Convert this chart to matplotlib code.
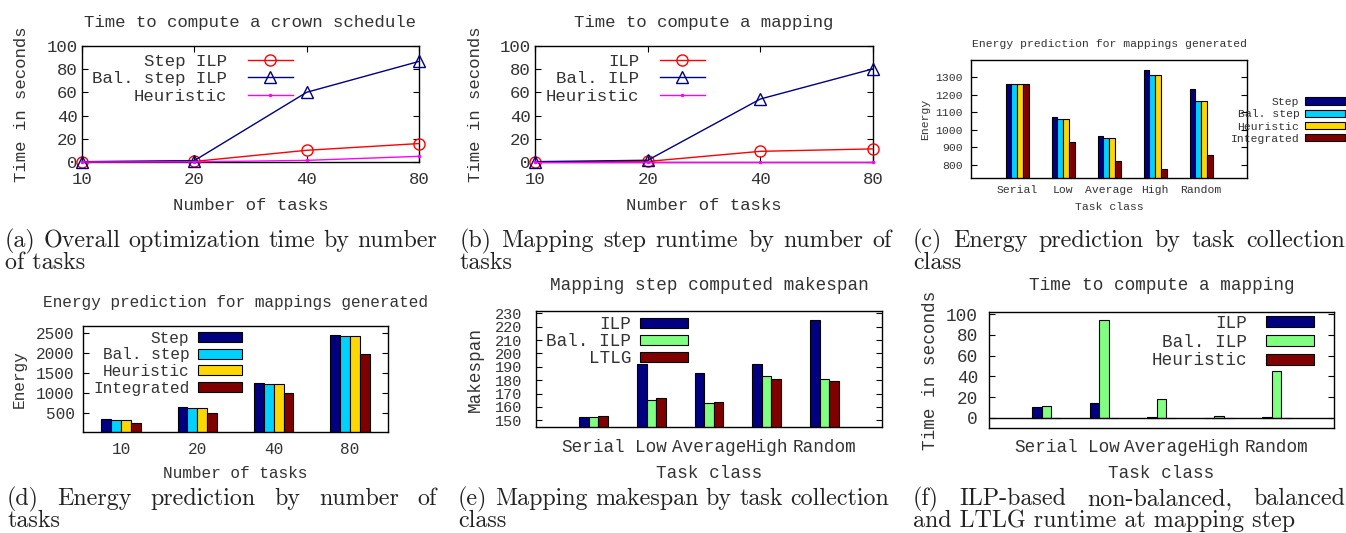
import numpy as np
import matplotlib.pyplot as plt

W, H = 1346, 533

tasks = ['10', '20', '40', '80']
classes = ['Serial', 'Low', 'Average', 'High', 'Random']

# (a) time to compute a crown schedule, seconds
a_step_ilp = [0.2, 0.5, 10.1, 15.9]
a_bal_step_ilp = [0.3, 1.2, 60.1, 86.7]
a_heuristic = [0.0, 0.1, 1.4, 4.9]

# (b) time to compute a mapping, seconds
b_ilp = [0.1, 0.5, 9.2, 11.3]
b_bal_ilp = [0.3, 1.5, 54.3, 80.3]
b_heuristic = [0.1, 0.1, 0.1, 0.1]

# (c) energy by task class
c_step = [1262, 1071, 963, 1338, 1234]
c_bal_step = [1262, 1063, 953, 1309, 1166]
c_heuristic = [1262, 1063, 953, 1309, 1166]
c_integrated = [1262, 933, 821, 779, 856]

# (d) energy by number of tasks
d_step = [342, 650, 1258, 2458]
d_bal_step = [317, 625, 1233, 2425]
d_heuristic = [317, 625, 1233, 2425]
d_integrated = [250, 500, 992, 1975]

# (e) mapping makespan by task class
e_ilp = [152.5, 192, 185, 192, 225]
e_bal_ilp = [152.2, 164.9, 162.9, 182.8, 180.6]
e_ltlg = [153.5, 166.6, 163.7, 180.8, 179.6]

# (f) time to compute a mapping by task class
f_ilp = [10.6, 14.8, 0.5, 0.2, 0.5]
f_bal_ilp = [11.3, 93.9, 18.4, 2.3, 45.2]
f_heuristic = [0.3, 0.2, 0.2, 0.2, 0.2]

NAVY, CYAN, GOLD, MAROON = '#000080', '#00d2ff', '#ffd700', '#800000'
LGREEN, RED, MAG = '#80ff80', '#ff0000', '#ff00ff'
TXT = '#333333'
MONO = 'Liberation Mono'

plt.rcParams['font.family'] = [MONO]
plt.rcParams['text.color'] = TXT
plt.rcParams['axes.linewidth'] = 1.0

fig = plt.figure(figsize=(W / 100, H / 100), dpi=100)


def new_axes(l, t, r, b):
    return fig.add_axes([l / W, 1 - b / H, (r - l) / W, (b - t) / H])


def dress(ax, fs, title, title_dy, xlabel, xlabel_dy, ylabel, ylabel_dx, xpad, ypad, tick_fs=None):
    tick_fs = tick_fs or fs
    w = ax.get_position().width * W
    h = ax.get_position().height * H
    ax.text(0.5, 1 + title_dy / h, title, transform=ax.transAxes,
            ha='center', va='center', fontsize=fs, family=MONO)
    ax.set_xlabel(xlabel, fontsize=fs, va='center', family=MONO, color=TXT)
    ax.xaxis.set_label_coords(0.5, -xlabel_dy / h)
    ax.set_ylabel(ylabel, fontsize=fs, va='center', family=MONO, color=TXT)
    ax.yaxis.set_label_coords(-ylabel_dx / w, 0.5)
    ax.tick_params(axis='both', labelsize=fs, colors='black', labelcolor=TXT,
                   direction='in', length=4, width=0.8)
    ax.tick_params(axis='x', pad=xpad)
    ax.tick_params(axis='y', pad=ypad, right=True, labelsize=tick_fs)
    for t in ax.get_xticklabels() + ax.get_yticklabels():
        t.set_family(MONO)


def grouped(ax, series, colors, labels, width):
    n = len(series)
    x = np.arange(len(series[0]))
    for i, (vals, c, lab) in enumerate(zip(series, colors, labels)):
        ax.bar(x + (i - (n - 1) / 2) * width, vals, width, color=c,
               edgecolor='black', linewidth=0.8, label=lab)
    ax.set_xticks(x)


def caption(x0, x1, y, line1, line2, fs=17.3):
    # LaTeX-like subcaption: first line justified, second line left aligned
    r = fig.canvas.get_renderer()
    words = line1.split()
    texts = [fig.text(0, 1 - y / H, wd, fontsize=fs, family='cmr10',
                      va='baseline', color='#222222') for wd in words]
    widths = [t.get_window_extent(r).width for t in texts]
    gap = max((x1 - x0 - sum(widths)) / (len(words) - 1), 4)
    x = x0
    for t, wd in zip(texts, widths):
        t.set_x(x / W)
        x += wd + gap
    fig.text(x0 / W, 1 - (y + 22) / H, line2, fontsize=fs, family='cmr10',
             va='baseline', color='#222222')


def line_panel(ax, s1, s2, s3, labels, title):
    x = np.arange(len(tasks))
    ax.plot(x, s1, color=RED, lw=1, marker='o', mfc='none', ms=8, mew=1,
            label=labels[0], clip_on=False, zorder=3)
    ax.plot(x, s2, color=NAVY, lw=1, marker='^', mfc='none', ms=8, mew=1,
            label=labels[1], clip_on=False, zorder=3)
    ax.plot(x, s3, color=MAG, lw=1, marker='.', ms=3,
            label=labels[2], clip_on=False, zorder=4)
    ax.set_xlim(0, 3)
    ax.set_ylim(0, 100)
    ax.set_xticks(x, tasks)
    ax.set_yticks(np.arange(0, 101, 20))
    dress(ax, 12.5, title, 24, 'Number of tasks', 43, 'Time in seconds', 60, 7, 3)
    ax.tick_params(axis='x', top=True)


# (a)
ax_a = new_axes(82, 46, 419, 162)
line_panel(ax_a, a_step_ilp, a_bal_step_ilp, a_heuristic,
           ['Step ILP', 'Bal. step ILP', 'Heuristic'],
           'Time to compute a crown schedule')
ax_a.legend(loc='upper right', bbox_to_anchor=(0.626, 0.935), frameon=False,
            markerfirst=False, borderpad=0, borderaxespad=0, labelspacing=0.15,
            handlelength=2.6, handletextpad=1.2, prop={'family': MONO, 'size': 12.5})

# (b)
ax_b = new_axes(535, 46, 873, 162)
line_panel(ax_b, b_ilp, b_bal_ilp, b_heuristic,
           ['ILP', 'Bal. ILP', 'Heuristic'], 'Time to compute a mapping')
ax_b.legend(loc='upper right', bbox_to_anchor=(0.503, 0.935), frameon=False,
            markerfirst=False, borderpad=0, borderaxespad=0, labelspacing=0.15,
            handlelength=2.6, handletextpad=1.2, prop={'family': MONO, 'size': 12.5})

# (c)
ax_c = new_axes(971, 60, 1247, 178)
grouped(ax_c, [c_step, c_bal_step, c_heuristic, c_integrated],
        [NAVY, CYAN, GOLD, MAROON], ['Step', 'Bal. step', 'Heuristic', 'Integrated'], 0.125)
ax_c.set_xticks(np.arange(len(classes)), classes)
ax_c.set_xlim(-1, 5)
ax_c.set_ylim(726, 1397)
ax_c.set_yticks(np.arange(800, 1301, 100))
dress(ax_c, 8.2, 'Energy prediction for mappings generated', 16,
      'Task class', 29, 'Energy', 46, 5, 6)
ax_c.tick_params(axis='x', length=0)
ax_c.legend(loc='upper right', bbox_to_anchor=(1345 / W, 1 - 97 / H),
            bbox_transform=fig.transFigure, frameon=False, markerfirst=False,
            borderpad=0, borderaxespad=0, labelspacing=0.2, handlelength=3.5,
            handleheight=0.6, handletextpad=0.5, prop={'family': MONO, 'size': 8.2})

# (d)
ax_d = new_axes(83, 326, 388, 432)
grouped(ax_d, [d_step, d_bal_step, d_heuristic, d_integrated],
        [NAVY, CYAN, GOLD, MAROON], ['Step', 'Bal. step', 'Heuristic', 'Integrated'], 0.13)
ax_d.set_xticks(np.arange(len(tasks)), tasks)
ax_d.set_xlim(-0.5, 3.5)
ax_d.set_ylim(25, 2683)
ax_d.set_yticks(np.arange(500, 2501, 500))
dress(ax_d, 11.6, 'Energy prediction for mappings generated', 23,
      'Number of tasks', 41, 'Energy', 64, 7, 6)
ax_d.tick_params(axis='x', length=0)
ax_d.legend(loc='upper right', bbox_to_anchor=(0.521, 0.955), frameon=False,
            markerfirst=False, borderpad=0, borderaxespad=0, labelspacing=0.1,
            handlelength=2.7, handleheight=0.55, handletextpad=0.56,
            prop={'family': MONO, 'size': 11.6})

# (e)
ax_e = new_axes(536, 311, 882, 427)
grouped(ax_e, [e_ilp, e_bal_ilp, e_ltlg], [NAVY, LGREEN, MAROON],
        ['ILP', 'Bal. ILP', 'LTLG'], 0.167)
ax_e.set_xticks(np.arange(len(classes)), classes)
ax_e.set_xlim(-1, 5)
ax_e.set_ylim(145, 231.7)
ax_e.set_yticks(np.arange(150, 231, 10))
dress(ax_e, 12.7, 'Mapping step computed makespan', 26,
      'Task class', 46, 'Makespan', 61, 9, 10, tick_fs=11)
ax_e.tick_params(axis='x', length=0)
ax_e.legend(loc='upper right', bbox_to_anchor=(0.439, 0.955), frameon=False,
            markerfirst=False, borderpad=0, borderaxespad=0, labelspacing=0.0,
            handlelength=2.7, handleheight=0.55, handletextpad=0.5,
            prop={'family': MONO, 'size': 12.7})

# (f)
ax_f = new_axes(989, 312, 1334, 428)
grouped(ax_f, [f_ilp, f_bal_ilp, f_heuristic], [NAVY, LGREEN, MAROON],
        ['ILP', 'Bal. ILP', 'Heuristic'], 0.167)
ax_f.set_xticks(np.arange(len(classes)), classes)
ax_f.set_xlim(-1, 5)
ax_f.set_ylim(-9.7, 102)
ax_f.set_yticks(np.arange(0, 101, 20))
ax_f.axhline(0, color='black', lw=1, zorder=1)
dress(ax_f, 12.7, 'Time to compute a mapping', 26,
      'Task class', 45, 'Time in seconds', 59, 8, 8)
ax_f.tick_params(axis='x', length=0)
ax_f.legend(loc='upper right', bbox_to_anchor=(0.942, 0.975), frameon=False,
            markerfirst=False, borderpad=0, borderaxespad=0, labelspacing=0.1,
            handlelength=2.7, handleheight=0.55, handletextpad=1.1,
            prop={'family': MONO, 'size': 12.7})

# captions
caption(5, 437, 247, '(a) Overall optimization time by number', 'of tasks')
caption(460, 892, 247, '(b) Mapping step runtime by number of', 'tasks')
caption(913, 1345, 247, '(c) Energy prediction by task collection', 'class')
caption(7, 437, 505, '(d) Energy prediction by number of', 'tasks')
caption(458, 889, 505, '(e) Mapping makespan by task collection', 'class')
caption(913, 1345, 505, '(f) ILP-based non-balanced, balanced', 'and LTLG runtime at mapping step')

fig.savefig('out.png', dpi=100)
